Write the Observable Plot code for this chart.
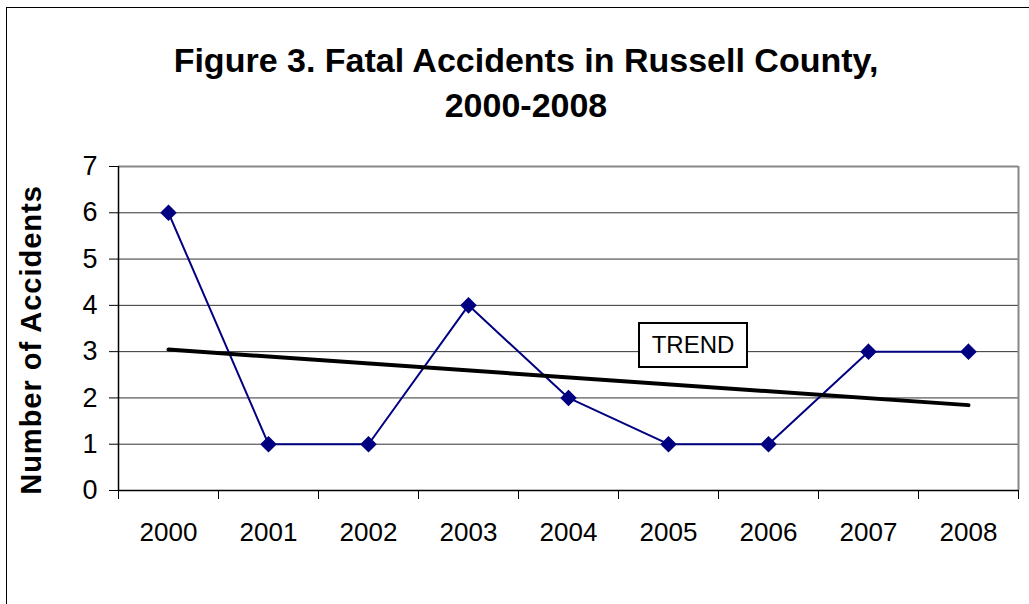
<!DOCTYPE html>
<html>
<head>
<meta charset="utf-8">
<script src="https://cdn.jsdelivr.net/npm/d3@7"></script>
<script src="https://cdn.jsdelivr.net/npm/@observablehq/plot@0.6"></script>
<style>
  html, body { margin: 0; padding: 0; background: #fff; }
  #wrap { position: relative; width: 1029px; height: 604px; overflow: hidden; font-family: "Liberation Sans", Arial, sans-serif; }
  #frame { position: absolute; left: 6px; top: 7px; width: 1100px; height: 700px; border-left: 1.5px solid #000; border-top: 1.5px solid #000; }
  .title { position: absolute; left: 0; width: 1052px; text-align: center; font-weight: bold; font-size: 34px; color: #000; line-height: 1; }
  #ylab { position: absolute; left: 31px; top: 340px; transform: translate(-50%, -50%) rotate(-90deg); font-weight: bold; font-size: 29px; letter-spacing: 1px; white-space: nowrap; }
  #trend { position: absolute; left: 638px; top: 322px; width: 106px; height: 42px; border: 2px solid #000; background: #fff; font-size: 24px; text-align: center; line-height: 42px; }
  #chart { position: absolute; left: 0; top: 0; }
</style>
</head>
<body>
<div id="wrap">
  <div id="frame"></div>
  <div id="chart"></div>
  <div class="title" style="top:43px">Figure 3. Fatal Accidents in Russell County,</div>
  <div class="title" style="top:88px">2000-2008</div>
  <div id="ylab">Number of Accidents</div>
  <div id="trend">TREND</div>
</div>
<script>
const years = [2000, 2001, 2002, 2003, 2004, 2005, 2006, 2007, 2008];
const accidents = [6, 1, 1, 4, 2, 1, 1, 3, 3];
const yTicks = [0, 1, 2, 3, 4, 5, 6, 7];
const gridValues = [1, 2, 3, 4, 5, 6];
const trendLabel = "TREND";

const data = years.map((yr, i) => ({year: yr, value: accidents[i]}));
const bounds = years.map(y => y - 0.5).concat([years[years.length - 1] + 0.5]);

const chart = Plot.plot({
  width: 1029,
  height: 604,
  marginLeft: 118,
  marginRight: 11,
  marginTop: 166,
  marginBottom: 114,
  style: {fontFamily: "'Liberation Sans', Arial, sans-serif", background: "transparent", overflow: "visible"},
  x: {type: "linear", domain: [bounds[0], bounds[bounds.length - 1]], label: null},
  y: {domain: [0, 7], label: null},
  marks: [
    Plot.ruleY(gridValues, {stroke: "#333", strokeWidth: 1}),
    Plot.ruleY([7], {stroke: "#888", strokeWidth: 2}),
    Plot.ruleX([bounds[bounds.length - 1]], {stroke: "#888", strokeWidth: 2}),
    Plot.ruleX([bounds[0]], {stroke: "#000", strokeWidth: 1.5}),
    Plot.ruleY([0], {stroke: "#000", strokeWidth: 1.5}),
    Plot.axisY(yTicks, {tickSize: 9, tickPadding: 12, fontSize: 27, label: null, tickFormat: d => String(d)}),
    Plot.axisX(years, {tickSize: 0, tickPadding: 32, fontSize: 26, label: null, tickFormat: d => String(d)}),
    Plot.axisX(bounds, {tickSize: 9, label: null, tickFormat: () => ""}),
    Plot.line(data, {x: "year", y: "value", stroke: "#000080", strokeWidth: 2}),
    Plot.linearRegressionY(data, {x: "year", y: "value", stroke: "#000", strokeWidth: 4, ci: 0}),
    Plot.dot(data, {x: "year", y: "value", symbol: "diamond2", r: 6.5, fill: "#000080", stroke: "#000080"})
  ]
});
document.getElementById("chart").appendChild(chart);
</script>
</body>
</html>
